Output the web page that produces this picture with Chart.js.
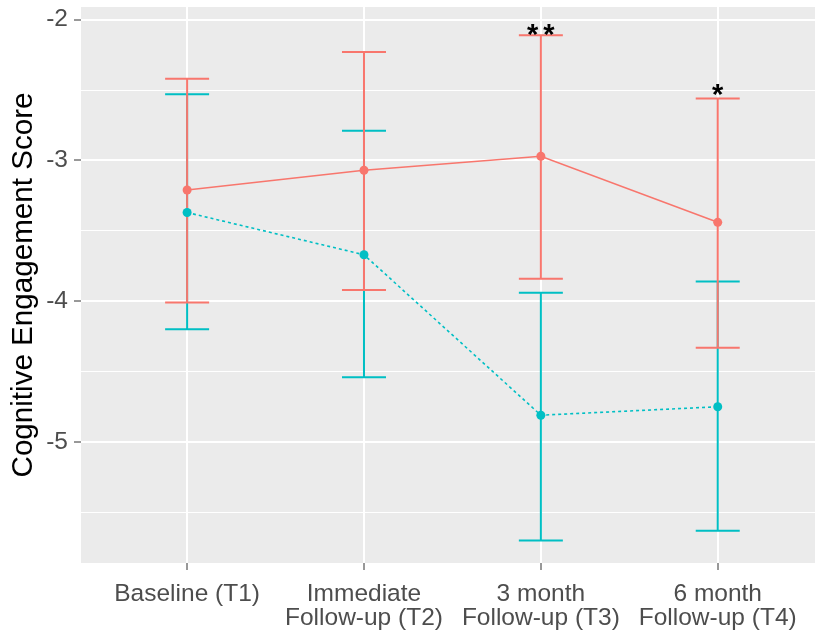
<!DOCTYPE html>
<html>
<head>
<meta charset="utf-8">
<script src="https://cdn.jsdelivr.net/npm/chart.js@4.4.1/dist/chart.umd.min.js"></script>
<style>
  body { margin: 0; background: #fff; }
  #wrap { width: 815px; height: 635px; }
</style>
</head>
<body>
<div id="wrap"><canvas id="engagementChart" width="815" height="635"></canvas></div>
<script>
// 時点
const timeLabels = ['Baseline (T1)', ['Immediate', 'Follow-up (T2)'], ['3 month', 'Follow-up (T3)'], ['6 month', 'Follow-up (T4)']];
const timePoints = [1, 2, 3, 4];

// 赤グループ（平均と誤差範囲）
const redMean  = [-3.21, -3.07, -2.97, -3.44];
const redUpper = [-2.42, -2.23, -2.11, -2.56];
const redLower = [-4.01, -3.92, -3.84, -4.33];

// 青緑グループ
const tealMean  = [-3.37, -3.67, -4.81, -4.75];
const tealUpper = [-2.53, -2.79, -3.94, -3.86];
const tealLower = [-4.20, -4.54, -5.70, -5.63];

// 有意差の印
const starLabels = ['', '', '**', '*'];
const starY = [null, null, -2.05, -2.48];

const RED = '#F8766D';
const TEAL = '#00BFC4';
const FONT = '"Liberation Sans", Arial, sans-serif';

const panelBg = {
  id: 'panelBg',
  beforeDraw(chart) {
    const {ctx, chartArea: a} = chart;
    ctx.save();
    ctx.fillStyle = '#EBEBEB';
    ctx.fillRect(a.left, a.top, a.right - a.left, a.bottom - a.top);
    ctx.restore();
  }
};

const errorBars = {
  id: 'errorBars',
  beforeDatasetsDraw(chart) {
    const {ctx, scales: {x, y}} = chart;
    const groups = [
      {color: TEAL, upper: tealUpper, lower: tealLower},
      {color: RED, upper: redUpper, lower: redLower},
    ];
    ctx.save();
    ctx.lineWidth = 2;
    groups.forEach((g) => {
      ctx.strokeStyle = g.color;
      timePoints.forEach((t, i) => {
        const px = x.getPixelForValue(t);
        const top = y.getPixelForValue(g.upper[i]);
        const bottom = y.getPixelForValue(g.lower[i]);
        ctx.beginPath();
        ctx.moveTo(px, top); ctx.lineTo(px, bottom);
        ctx.moveTo(px - 22, top); ctx.lineTo(px + 22, top);
        ctx.moveTo(px - 22, bottom); ctx.lineTo(px + 22, bottom);
        ctx.stroke();
      });
    });
    ctx.restore();
  },
  afterDatasetsDraw(chart) {
    const {ctx, scales: {x, y}} = chart;
    ctx.save();
    ctx.fillStyle = '#000';
    ctx.font = 'bold 29px ' + FONT;
    ctx.letterSpacing = '5px';
    ctx.textAlign = 'center';
    ctx.textBaseline = 'alphabetic';
    starLabels.forEach((s, i) => {
      if (!s) return;
      const px = x.getPixelForValue(timePoints[i]) + 2.5;
      ctx.fillText(s, px, y.getPixelForValue(starY[i]) + 17);
    });
    ctx.restore();
  }
};

const ctx = document.getElementById('engagementChart');
const myChart = new Chart(ctx, {
  type: 'line',
  data: {
    datasets: [
      {
        data: timePoints.map((t, i) => ({x: t, y: redMean[i]})),
        borderColor: RED,
        backgroundColor: RED,
        borderWidth: 1.6,
        pointRadius: 4.5,
        pointBorderWidth: 0,
        order: 1,
      },
      {
        data: timePoints.map((t, i) => ({x: t, y: tealMean[i]})),
        borderColor: TEAL,
        backgroundColor: TEAL,
        borderWidth: 1.6,
        borderDash: [3, 3],
        pointRadius: 4.5,
        pointBorderWidth: 0,
        order: 2,
      }
    ]
  },
  options: {
    responsive: false,
    animation: false,
    layout: { autoPadding: false, padding: { top: 7, right: 0, left: 0, bottom: 0 } },
    plugins: {
      legend: { display: false },
      tooltip: { enabled: false },
    },
    scales: {
      x: {
        type: 'linear',
        min: 0.4,
        max: 4.55,
        border: { display: false },
        afterFit(scale) {
          scale.height = 72;
          scale.paddingLeft = 0;
          scale.paddingRight = 0;
        },
        grid: {
          color: '#FFFFFF',
          lineWidth: 2,
          tickLength: 7,
          tickColor: '#333333',
          tickWidth: 1,
        },
        ticks: {
          stepSize: 1,
          includeBounds: false,
          autoSkip: false,
          maxRotation: 0,
          padding: 12,
          color: '#4D4D4D',
          font: { family: FONT, size: 24.5, lineHeight: 0.98 },
          callback: function(value) {
            const i = timePoints.indexOf(value);
            return i >= 0 ? timeLabels[i] : '';
          }
        }
      },
      y: {
        min: -5.86,
        max: -1.91,
        border: { display: false },
        afterFit(scale) {
          scale.width = 81;
          scale.paddingTop = 0;
          scale.paddingBottom = 0;
        },
        grid: {
          color: '#FFFFFF',
          lineWidth: (c) => Number.isInteger(c.tick.value) ? 2 : 1,
          tickLength: 7,
          tickColor: (c) => Number.isInteger(c.tick.value) ? '#333333' : 'rgba(0,0,0,0)',
          tickWidth: 1,
        },
        ticks: {
          stepSize: 0.5,
          includeBounds: false,
          autoSkip: false,
          padding: 6,
          color: '#4D4D4D',
          font: { family: FONT, size: 24.5 },
          callback: function(value) {
            return Number.isInteger(value) ? String(value) : '';
          }
        },
        title: {
          display: true,
          text: 'Cognitive Engagement Score',
          color: '#000000',
          padding: { top: 6 },
          font: { family: FONT, size: 29.6 },
        }
      }
    }
  },
  plugins: [panelBg, errorBars]
});
</script>
</body>
</html>
